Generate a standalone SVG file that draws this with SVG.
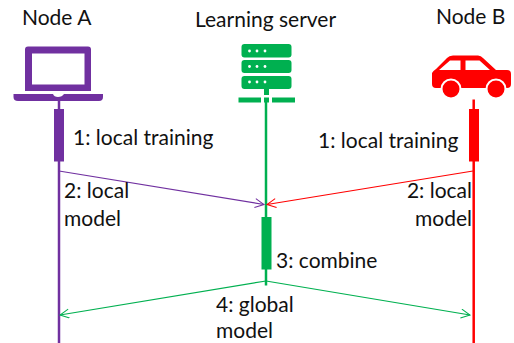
<svg xmlns="http://www.w3.org/2000/svg" width="514" height="343" viewBox="0 0 514 343">
<style>
text{font-family:"Lato","Liberation Sans",sans-serif;font-size:21px;fill:#111}
.e{text-anchor:end}
.p{fill:#7030a0}.g{fill:#00b050}.r{fill:#ff0000}
.w{fill:#fff}
.life{fill:none;stroke-width:2.5}
.msg{fill:none;stroke-width:1.2}
</style>
<defs>
<marker id="mp" markerWidth="12" markerHeight="12" refX="10" refY="5" orient="auto" markerUnits="userSpaceOnUse"><path d="M1 0.5L10 5L1 9.5" fill="none" stroke="#7030a0" stroke-width="1"/></marker>
<marker id="mr" markerWidth="12" markerHeight="12" refX="10" refY="5" orient="auto" markerUnits="userSpaceOnUse"><path d="M1 0.5L10 5L1 9.5" fill="none" stroke="#ff0000" stroke-width="1"/></marker>
<marker id="mg" markerWidth="12" markerHeight="12" refX="10" refY="5" orient="auto" markerUnits="userSpaceOnUse"><path d="M1 0.5L10 5L1 9.5" fill="none" stroke="#00b050" stroke-width="1"/></marker>
</defs>
<g id="connectors">
<path class="life" stroke="#7030a0" d="M59 101V343"/>
<path class="life" stroke="#00b050" d="M266 102V285.500"/>
<path class="life" stroke="#ff0000" d="M473.700 99.500V343"/>
<path class="msg" stroke="#7030a0" marker-end="url(#mp)" d="M59 171L264 204.500"/>
<path class="msg" stroke="#ff0000" marker-end="url(#mr)" d="M473 171L267 204.500"/>
<path class="msg" stroke="#00b050" marker-end="url(#mg)" d="M266 281L60 315"/>
<path class="msg" stroke="#00b050" marker-end="url(#mg)" d="M266 281L470 315"/>
</g>
<g id="node-a">
<text x="22" y="25">Node A</text>
<path class="p" fill-rule="evenodd" d="M28 46.500H88Q91 46.500 91 49.500V91H25V49.500Q25 46.500 28 46.500ZM32 53.500V84.500H84.500V53.500Z"/>
<path class="p" d="M13.500 94H53Q54 97 58 97Q62 97 64 94H103V97Q103 101 99 101H18Q13.500 101 13.500 97Z"/>
<rect class="p" x="54" y="109" width="10" height="52.500"/>
<text x="73" y="145">1: local training</text>
<text x="64" y="198">2: local</text>
<text x="64" y="226">model</text>
</g>
<g id="learning-server">
<text x="195" y="27">Learning server</text>
<rect class="g" x="241.500" y="44" width="50" height="13.500" rx="3"/>
<rect class="g" x="241.500" y="60" width="50" height="13" rx="3"/>
<rect class="g" x="241.500" y="76" width="50" height="13" rx="3"/>
<g class="w"><circle cx="249.500" cy="51" r="1.400"/><circle cx="257" cy="51" r="1.400"/><circle cx="265" cy="51" r="1.400"/><circle cx="249.500" cy="66.500" r="1.400"/><circle cx="257" cy="66.500" r="1.400"/><circle cx="265" cy="66.500" r="1.400"/><circle cx="249.500" cy="82" r="1.400"/><circle cx="257" cy="82" r="1.400"/><circle cx="265" cy="82" r="1.400"/></g>
<rect class="g" x="264" y="89" width="5" height="6"/>
<rect class="g" x="238.500" y="97.500" width="22.500" height="5"/>
<rect class="g" x="264" y="97.500" width="5" height="5"/>
<rect class="g" x="272" y="97.500" width="23" height="5"/>
<rect class="g" x="261.500" y="217" width="10" height="52.500"/>
<text x="276" y="268">3: combine</text>
<text x="216" y="312">4: global</text>
<text x="216" y="338">model</text>
</g>
<g id="node-b">
<text x="436" y="24">Node B</text>
<path class="r" d="M432 73Q433 71 436 69L447 58Q449 55.500 453 55.500H478Q481 55.500 483 58L496 70H507Q511 70 511 74V84Q511 88 507 88H436Q432 88 432 84Z"/>
<path class="w" d="M439 70L450 60.500H460.500V70ZM465.500 60.500H479.500L490 70H465.500Z"/>
<circle class="r" cx="451" cy="89" r="9.500" stroke="#fff" stroke-width="2"/>
<circle class="r" cx="496" cy="89" r="9.500" stroke="#fff" stroke-width="2"/>
<rect class="r" x="469" y="109" width="10" height="52.500"/>
<text x="318" y="148">1: local training</text>
<text class="e" x="472" y="198">2: local</text>
<text class="e" x="472" y="226">model</text>
</g>
</svg>
